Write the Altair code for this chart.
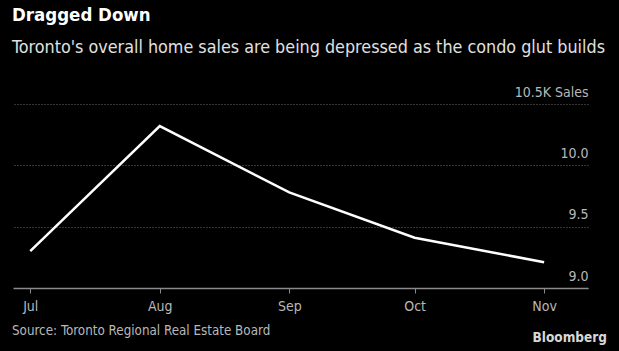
import altair as alt
import pandas as pd

# ---- data ----
months = ["2023-07-01", "2023-08-01", "2023-09-01", "2023-10-01", "2023-11-01"]
sales_k = [9.30, 10.32, 9.78, 9.41, 9.21]
y_ticks = [9.0, 9.5, 10.0, 10.5]
title_text = ["Dragged Down"]
subtitle_text = ["Toronto's overall home sales are being depressed as the condo glut builds"]
source_text = ["Source: Toronto Regional Real Estate Board"]
brand_text = ["Bloomberg"]

df = pd.DataFrame({"month": months, "sales": sales_k})

FONT = "DejaVu Sans Condensed"
W, H = 575, 184

month_vals = [alt.DateTime(year=int(m[:4]), month=int(m[5:7]), date=1, utc=True) for m in months]

x = alt.X(
    "month:T",
    scale=alt.Scale(
        type="utc",
        domain=[
            alt.DateTime(year=2023, month=6, date=26, hours=21, utc=True),
            alt.DateTime(year=2023, month=11, date=11, hours=12, utc=True),
        ],
    ),
    axis=alt.Axis(
        values=month_vals,
        labelExpr="utcFormat(datum.value, '%b')",
        title=None,
        grid=False,
        domainColor="#8a8a8a",
        domainWidth=1.5,
        tickColor="#8a8a8a",
        tickSize=5,
        tickWidth=1,
        labelColor="#b8b8b8",
        labelFont=FONT,
        labelFontSize=14,
        labelPadding=6,
    ),
)

y = alt.Y(
    "sales:Q",
    scale=alt.Scale(domain=[9.0, 10.5], nice=False, zero=False),
    axis=alt.Axis(
        orient="right",
        values=y_ticks,
        title=None,
        domain=False,
        ticks=False,
        grid=True,
        gridColor="#6a6a6a",
        gridDash=[1, 2],
        gridWidth=1,
        labelAlign="right",
        labelBaseline="alphabetic",
        labelOffset=-8,
        labelPadding=0,
        labelColor="#b8b8b8",
        labelFont=FONT,
        labelFontSize=14,
        labelExpr="datum.value == 10.5 ? '10.5K Sales' : format(datum.value, '.1f')",
    ),
)

line = alt.Chart(df).mark_line(
    color="#ffffff", strokeWidth=2.5, strokeJoin="miter", strokeCap="butt"
).encode(x=x, y=y)

def text_layer(lst, xpos, ypos, size, color, weight="normal", align="left"):
    return alt.Chart(pd.DataFrame({"t": lst})).mark_text(
        font=FONT, fontSize=size, color=color, fontWeight=weight,
        align=align, baseline="middle"
    ).encode(text="t:N", x=alt.value(xpos), y=alt.value(ypos))

title = text_layer(title_text, -1, -89, 18.5, "#ffffff", "bold")
subtitle = text_layer(subtitle_text, -1, -56, 17.8, "#e0e0e0")
source = text_layer(source_text, -1, 227, 13.3, "#b8b8b8")
brand = text_layer(brand_text, 594, 234, 13.5, "#d8d8d8", "bold", "right")

chart = alt.layer(line, title, subtitle, source, brand).properties(
    width=W,
    height=H,
    background="#000000",
    autosize=alt.AutoSizeParams(type="none"),
    padding={"left": 13, "top": 104, "right": 31, "bottom": 63},
).configure_view(stroke=None)

chart.save("out.html", embed_options={"renderer": "svg", "actions": False})
